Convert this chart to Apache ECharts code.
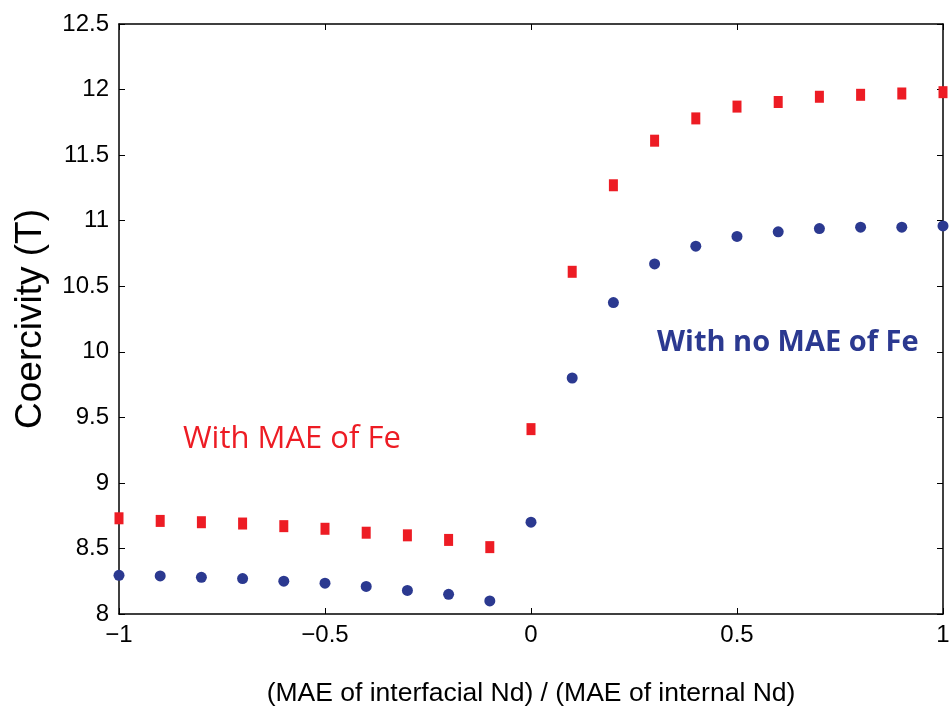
<!DOCTYPE html>
<html>
<head>
<meta charset="utf-8">
<script src="https://cdn.jsdelivr.net/npm/echarts@6/dist/echarts.min.js"></script>
<style>
  html, body { margin: 0; padding: 0; background: #fff; }
  #chart { width: 951px; height: 712px; }
</style>
</head>
<body>
<div id="chart"></div>
<script>
  // ratio of interfacial / internal Nd MAE
  const ratios = [-1, -0.9, -0.8, -0.7, -0.6, -0.5, -0.4, -0.3, -0.2, -0.1, 0, 0.1, 0.2, 0.3, 0.4, 0.5, 0.6, 0.7, 0.8, 0.9, 1];
  // coercivity (T)
  const withFe = [8.73, 8.71, 8.70, 8.69, 8.67, 8.65, 8.62, 8.60, 8.565, 8.51, 9.41, 10.61, 11.27, 11.61, 11.78, 11.87, 11.905, 11.945, 11.96, 11.97, 11.98];
  const noFe = [8.295, 8.29, 8.28, 8.27, 8.25, 8.235, 8.21, 8.18, 8.15, 8.10, 8.70, 9.80, 10.375, 10.67, 10.805, 10.88, 10.915, 10.94, 10.95, 10.95, 10.96];

  const toPairs = arr => ratios.map((x, i) => [x, arr[i]]);
  const minus = v => String(v).replace('-', '\u2212');

  let myChart = echarts.init(document.getElementById('chart'));

  const lineStyle = { color: '#000', width: 1.5 };
  const tick = { show: true, inside: true, length: 6, lineStyle: { color: '#000', width: 1 } };
  const font = 'Liberation Sans, Arial, sans-serif';
  const labelFont = { color: '#000', fontSize: 24, fontFamily: font };

  myChart.setOption({
    animation: false,
    grid: { left: 119, right: 8, top: 24, bottom: 98, outerBoundsMode: 'none', containLabel: false },
    xAxis: [
      {
        type: 'value', min: -1, max: 1, interval: 0.5,
        axisLine: { onZero: false, lineStyle: lineStyle },
        axisTick: tick,
        axisLabel: Object.assign({ margin: 9, formatter: minus }, labelFont),
        splitLine: { show: false },
        name: '(MAE of interfacial Nd) / (MAE of internal Nd)',
        nameLocation: 'middle',
        nameGap: 66,
        nameTextStyle: { color: '#000', fontSize: 26.5, fontFamily: font }
      },
      {
        type: 'value', position: 'top', min: -1, max: 1, interval: 0.5,
        axisLine: { onZero: false, lineStyle: lineStyle },
        axisTick: tick,
        axisLabel: { show: false },
        splitLine: { show: false }
      }
    ],
    yAxis: [
      {
        type: 'value', min: 8, max: 12.5, interval: 0.5,
        axisLine: { show: true, onZero: false, lineStyle: lineStyle },
        axisTick: tick,
        axisLabel: Object.assign({ margin: 10 }, labelFont),
        splitLine: { show: false },
        name: 'Coercivity (T)',
        nameLocation: 'middle',
        nameGap: 70,
        nameTextStyle: { color: '#000', fontSize: 37, fontFamily: font }
      },
      {
        type: 'value', position: 'right', min: 8, max: 12.5, interval: 0.5,
        axisLine: { show: true, onZero: false, lineStyle: lineStyle },
        axisTick: tick,
        axisLabel: { show: false },
        splitLine: { show: false }
      }
    ],
    series: [
      {
        name: 'With MAE of Fe',
        type: 'scatter',
        data: toPairs(withFe),
        symbol: 'rect',
        symbolSize: [9, 12],
        itemStyle: { color: '#ed1c24', opacity: 1 },
        z: 3
      },
      {
        name: 'With no MAE of Fe',
        type: 'scatter',
        data: toPairs(noFe),
        symbol: 'circle',
        symbolSize: 11,
        itemStyle: { color: '#2b3990', opacity: 1 },
        z: 3
      }
    ],
    graphic: [
      {
        type: 'text', left: 183, top: 424,
        style: { text: 'With MAE of Fe', fill: '#ed1c24', fontSize: 31, fontFamily: 'Open Sans, sans-serif' }
      },
      {
        type: 'text', left: 657, top: 328,
        style: { text: 'With no MAE of Fe', fill: '#2b3990', fontSize: 29, fontWeight: 'bold', fontFamily: 'Open Sans, sans-serif' }
      }
    ]
  });
</script>
</body>
</html>
